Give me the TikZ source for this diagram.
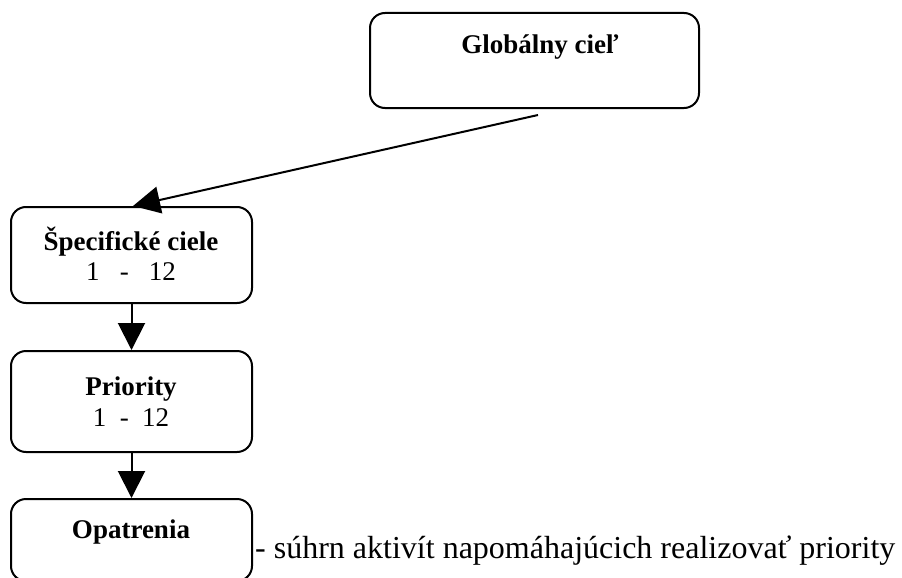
\documentclass[tikz,border=0pt]{standalone}
\usepackage{fontspec}
\setmainfont{Liberation Serif}
\usetikzlibrary{arrows.meta}
\begin{document}
\begin{tikzpicture}[x=1pt,y=-1pt,
  box/.style={draw, line width=2pt, rounded corners=15pt, inner sep=0pt},
  title/.style={font=\fontsize{27}{30}\selectfont\bfseries, inner sep=0pt, anchor=base},
  num/.style={font=\fontsize{27}{30}\selectfont, inner sep=0pt, anchor=base},
  note/.style={font=\fontsize{32}{36}\selectfont, inner sep=0pt, anchor=base west},
  conn/.style={line width=2pt, -{Triangle[length=27pt,width=27pt]}}]
\useasboundingbox (0,0) rectangle (902,578);
% boxes
\node[box, minimum width=329pt, minimum height=95pt] (glob) at (534.5,60.5) {};
\node[box, minimum width=241pt, minimum height=96pt] (spec) at (131.5,255) {};
\node[box, minimum width=241pt, minimum height=101pt] (prio) at (131.5,401.5) {};
\node[box, minimum width=241pt, minimum height=82pt] (opat) at (131.5,540) {};
% texts
\node[title] (globt) at (540,54) {Globálny cieľ};
\node[title] (spect) at (131,250) {Špecifické ciele};
\node[num] (specn) at (131,280) {1\ \ \ -\ \ \ 12};
\node[title] (priot) at (131,395) {Priority};
\node[num] (prion) at (131,426) {1\ \ -\ \ 12};
\node[title] (opatt) at (131,538) {Opatrenia};
\node[note] (notet) at (255,558) {- súhrn aktivít napomáhajúcich realizovať priority};
% connectors
\draw[conn] ([xshift=3.5pt,yshift=-6pt]glob.south) -- ([xshift=1.5pt]spec.north);
\draw[conn] (spec.south) -- (prio.north);
\draw[conn] (prio.south) -- (opat.north);
\end{tikzpicture}
\end{document}
